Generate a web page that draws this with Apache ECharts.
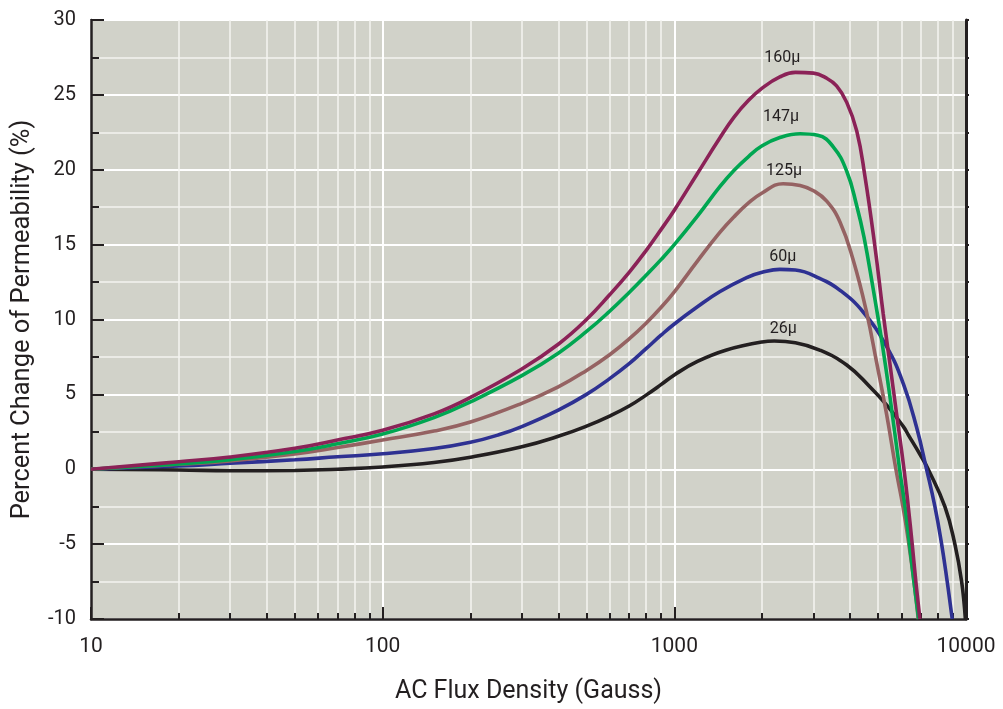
<!DOCTYPE html>
<html>
<head>
<meta charset="utf-8">
<script src="https://cdn.jsdelivr.net/npm/echarts@6/dist/echarts.min.js"></script>
<style>
  html, body { margin: 0; padding: 0; background: #ffffff; }
  #chart { width: 1003px; height: 709px; }
</style>
</head>
<body>
<div id="chart"></div>
<script>
// Tick positions on the logarithmic flux axis
const decadeTicks = [10, 100, 1000, 10000];
const minorTicks = [20, 30, 40, 50, 60, 70, 80, 90,
                    200, 300, 400, 500, 600, 700, 800, 900,
                    2000, 3000, 4000, 5000, 6000, 7000, 8000, 9000];

// Curve names (initial permeability grades)
const gradeNames = ['26μ', '60μ', '125μ', '147μ', '160μ'];

// [AC flux density (G), percent change of permeability (%)]
const mu26 = [
  [10, 0], [20, -0.05], [30, -0.1], [50, -0.08], [70, 0], [100, 0.15], [150, 0.45],
  [200, 0.8], [300, 1.5], [400, 2.2], [500, 2.88], [600, 3.55], [700, 4.22], [800, 4.95],
  [900, 5.65], [1000, 6.3], [1200, 7.2], [1500, 7.95], [2000, 8.5], [2200, 8.56],
  [2600, 8.45], [3150, 7.96], [3900, 6.96], [4680, 5.51], [5340, 4.3], [6100, 2.85],
  [6340, 2.3], [6950, 1.0], [7420, 0], [8466, -2.5], [9160, -5], [9660, -7.5], [9950, -10]
];
const mu60 = [
  [10, 0], [20, 0.22], [30, 0.4], [50, 0.63], [70, 0.83], [100, 1.03], [150, 1.38],
  [200, 1.8], [250, 2.3], [300, 2.85], [400, 3.95], [500, 5.0], [600, 6.05], [700, 7.05],
  [800, 8.05], [900, 8.95], [1000, 9.7], [1200, 10.85], [1430, 11.85], [1770, 12.8],
  [2000, 13.15], [2300, 13.35], [2600, 13.3], [3150, 12.75], [3700, 11.95], [4440, 10.5],
  [5340, 8.2], [6100, 5.7], [6770, 2.8], [7325, 0], [7825, -2.5], [8250, -5],
  [8620, -7.5], [8970, -10]
];
const mu125 = [
  [10, 0], [20, 0.33], [30, 0.56], [50, 1.02], [70, 1.45], [100, 1.95], [150, 2.55],
  [200, 3.15], [300, 4.4], [400, 5.5], [500, 6.6], [600, 7.65], [700, 8.7], [800, 9.75],
  [900, 10.8], [1000, 11.85], [1200, 13.9], [1430, 15.8], [1600, 16.85], [1800, 17.8],
  [2000, 18.45], [2360, 19.07], [2700, 18.95], [3000, 18.6], [3330, 17.9], [3700, 16.5],
  [4100, 14.0], [4560, 10.5], [4930, 7.2], [5340, 3.7], [5750, 0], [6080, -2.5],
  [6370, -5], [6630, -7.5], [6860, -10]
];
const mu147 = [
  [10, 0], [20, 0.36], [30, 0.63], [50, 1.18], [70, 1.7], [100, 2.35], [150, 3.45],
  [200, 4.5], [300, 6.25], [400, 7.75], [500, 9.2], [600, 10.55], [700, 11.8], [800, 12.95],
  [900, 14.0], [1000, 15.0], [1200, 16.9], [1430, 18.85], [1600, 19.95], [1800, 20.9],
  [2000, 21.6], [2300, 22.15], [2700, 22.4], [3100, 22.3], [3500, 21.55], [3900, 19.9],
  [4220, 17.6], [4470, 15.5], [4800, 12.1], [5140, 8.6], [5480, 4.9], [5920, 0],
  [6180, -2.5], [6400, -5], [6630, -7.5], [6880, -10]
];
const mu160 = [
  [10, 0], [20, 0.5], [30, 0.82], [50, 1.4], [70, 1.95], [100, 2.6], [150, 3.7],
  [200, 4.8], [300, 6.7], [400, 8.35], [500, 10.0], [600, 11.65], [700, 13.15], [800, 14.6],
  [900, 16.0], [1000, 17.3], [1200, 19.75], [1430, 22.1], [1600, 23.5], [1800, 24.65],
  [2000, 25.45], [2300, 26.2], [2600, 26.5], [3000, 26.45], [3300, 26.15], [3600, 25.6],
  [3900, 24.5], [4220, 22.6], [4500, 19.6], [4870, 14.9], [5200, 10.4], [5480, 7.1],
  [5780, 3.7], [6130, 0], [6340, -2.5], [6540, -5], [6730, -7.5], [6950, -10]
];
const curveData = [mu26, mu60, mu125, mu147, mu160];

// Line colours and label nudges for each curve
const curveColors = ['#231f20', '#2e3192', '#956262', '#00a651', '#8b2257'];
const labelNudge = [[9, 4], [3, 4], [1, 5], [-19, 9], [-13, 6]];

const ink = '#231f20';
const font = 'Roboto, "DejaVu Sans", sans-serif';

const chart = echarts.init(document.getElementById('chart'), null, { renderer: 'canvas' });

const series = curveData.map((pts, i) => ({
  name: gradeNames[i],
  type: 'line',
  xAxisIndex: 0,
  yAxisIndex: 0,
  data: pts,
  smooth: 0.45,
  showSymbol: false,
  clip: true,
  lineStyle: { color: curveColors[i], width: 3.6 },
  itemStyle: { color: curveColors[i] },
  z: 3 + i,
  markPoint: {
    symbol: 'circle',
    symbolSize: 0,
    data: [{ type: 'max', valueDim: 'y' }],
    label: {
      show: true,
      position: 'top',
      distance: labelNudge[i][1],
      offset: [labelNudge[i][0], 0],
      formatter: gradeNames[i],
      fontFamily: font,
      fontSize: 16,
      color: ink
    }
  }
}));

chart.setOption({
  animation: false,
  grid: {
    left: 91, right: 37, top: 20, bottom: 90,
    show: true,
    backgroundColor: '#d1d2c9',
    borderColor: '#4a4a4a',
    borderWidth: 1.5,
    outerBoundsMode: 'none',
    containLabel: false
  },
  xAxis: [
    {
      type: 'log', logBase: 10, min: 10, max: 10000, position: 'bottom',
      name: 'AC Flux Density (Gauss)',
      nameLocation: 'middle', nameGap: 60,
      nameTextStyle: { fontFamily: font, fontSize: 25, color: ink },
      axisLine: { show: true, onZero: false, lineStyle: { color: ink, width: 2.5 } },
      axisTick: { show: true, inside: true, length: 12, customValues: decadeTicks,
                  lineStyle: { color: ink, width: 2 } },
      axisLabel: { show: true, customValues: decadeTicks, margin: 17,
                   formatter: v => String(Math.round(v)),
                   fontFamily: font, fontSize: 21, color: ink },
      splitLine: { show: true, lineStyle: { color: '#ffffff', width: 2 } }
    },
    {
      type: 'log', logBase: 10, min: 10, max: 10000, position: 'bottom',
      axisLine: { show: false, onZero: false },
      axisTick: { show: true, inside: true, length: 6, customValues: minorTicks,
                  lineStyle: { color: ink, width: 2 } },
      axisLabel: { show: false },
      splitLine: { show: true, lineStyle: { color: '#f4f4f0', width: 1.5 } }
    }
  ],
  yAxis: [
    {
      type: 'value', min: -10, max: 30, interval: 5, position: 'left',
      name: 'Percent Change of Permeability (%)',
      nameLocation: 'middle', nameGap: 55, nameRotate: 90,
      nameTextStyle: { fontFamily: font, fontSize: 25.5, color: ink },
      axisLine: { show: true, onZero: false, lineStyle: { color: ink, width: 2.5 } },
      axisTick: { show: true, inside: true, length: 13, lineStyle: { color: ink, width: 2 } },
      minorTick: { show: true, splitNumber: 2, length: 8, lineStyle: { color: ink, width: 2 } },
      axisLabel: { margin: 15, fontFamily: font, fontSize: 20, color: ink,
                   formatter: v => String(v) },
      splitLine: { show: true, lineStyle: { color: '#ffffff', width: 2 } },
      minorSplitLine: { show: true, lineStyle: { color: '#f4f4f0', width: 1.5 } }
    },
    {
      type: 'value', min: -10, max: 30, interval: 2.5, position: 'right',
      axisLine: { show: true, onZero: false, lineStyle: { color: ink, width: 3 } },
      axisTick: { show: true, inside: false, length: 3, lineStyle: { color: ink, width: 2 } },
      axisLabel: { show: false },
      splitLine: { show: false }
    }
  ],
  series: series
});
</script>
</body>
</html>
